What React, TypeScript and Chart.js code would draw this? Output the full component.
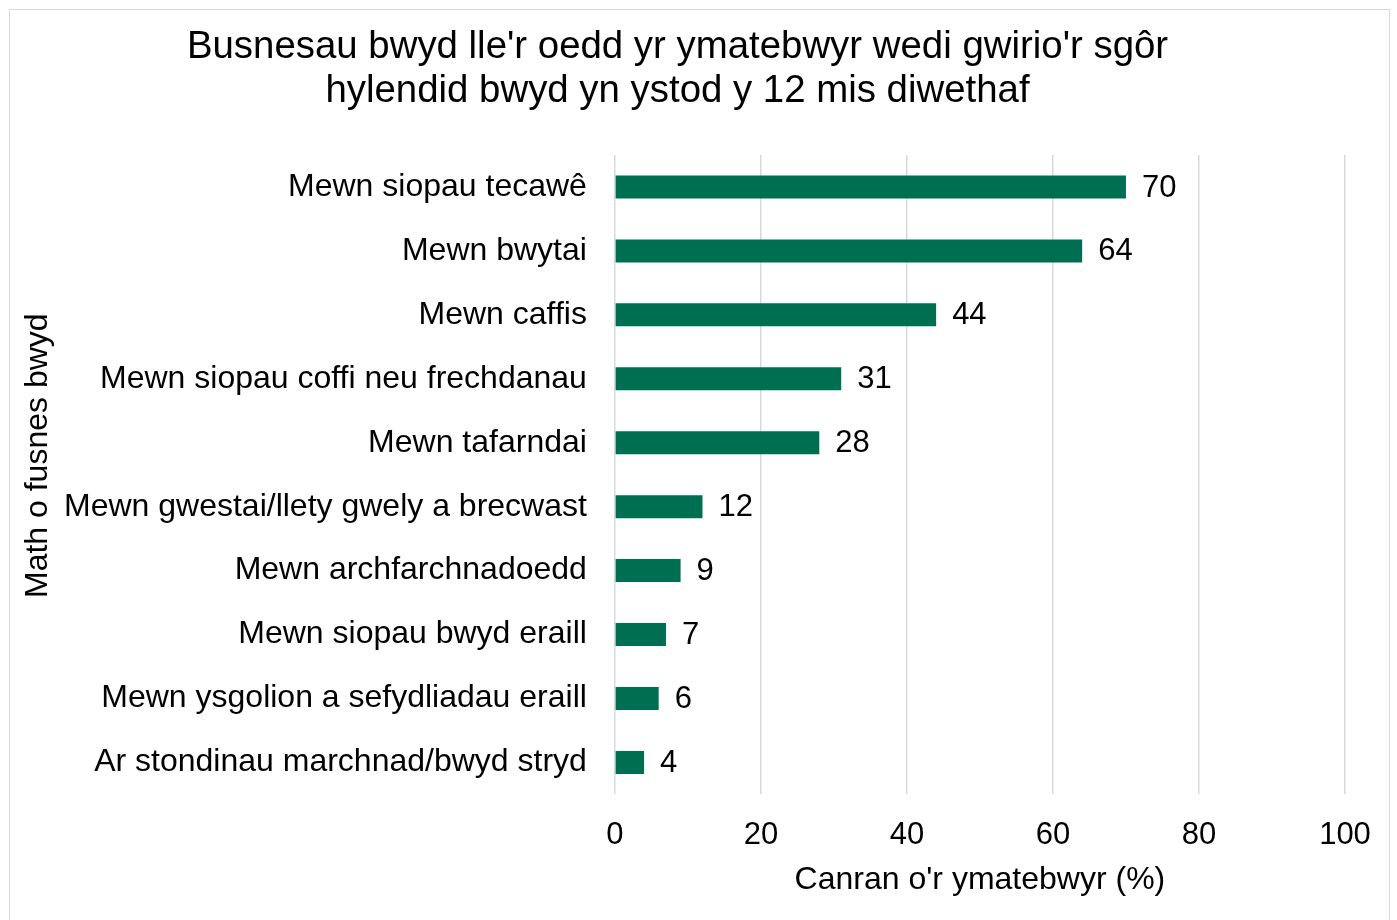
import React, { useEffect, useRef } from "react";
import { Chart, registerables } from "chart.js";

Chart.register(...registerables);

const titleLines = [
  "Busnesau bwyd lle'r oedd yr ymatebwyr wedi gwirio'r sgôr",
  "hylendid bwyd yn ystod y 12 mis diwethaf",
];
const categories = [
  "Mewn siopau tecawê",
  "Mewn bwytai",
  "Mewn caffis",
  "Mewn siopau coffi neu frechdanau",
  "Mewn tafarndai",
  "Mewn gwestai/llety gwely a brecwast",
  "Mewn archfarchnadoedd",
  "Mewn siopau bwyd eraill",
  "Mewn ysgolion a sefydliadau eraill",
  "Ar stondinau marchnad/bwyd stryd",
];
const values = [70, 64, 44, 31, 28, 12, 9, 7, 6, 4];
const xTitle = "Canran o'r ymatebwyr (%)";
const yTitle = "Math o fusnes bwyd";
const xMin = 0;
const xMax = 100;
const xStep = 20;

const FONT = "'Liberation Sans', Arial, sans-serif";
const BAR = "#006E51";

const dataLabelPlugin = {
  id: "dataLabels",
  afterDatasetsDraw(chart: any) {
    const ctx = chart.ctx;
    const meta = chart.getDatasetMeta(0);
    ctx.save();
    ctx.font = `31px ${FONT}`;
    ctx.fillStyle = "#000";
    ctx.textAlign = "left";
    ctx.textBaseline = "middle";
    meta.data.forEach((el: any, i: number) => {
      ctx.fillText(String(values[i]), el.x + 16, el.y + 1);
    });
    ctx.restore();
  },
};

const yTitlePlugin = {
  id: "yTitle",
  afterDraw(chart: any) {
    const ctx = chart.ctx;
    const area = chart.chartArea;
    ctx.save();
    ctx.font = `32px ${FONT}`;
    ctx.fillStyle = "#000";
    ctx.textAlign = "center";
    ctx.textBaseline = "middle";
    ctx.translate(28, (area.top + area.bottom) / 2 - 19);
    ctx.rotate(-Math.PI / 2);
    ctx.fillText(yTitle, 0, 0);
    ctx.restore();
  },
};

export default function App() {
  const ref = useRef<HTMLCanvasElement>(null);
  useEffect(() => {
    if (!ref.current) return;
    const chart = new Chart(ref.current, {
      type: "bar",
      data: {
        labels: categories,
        datasets: [
          {
            data: values,
            backgroundColor: BAR,
            borderWidth: 0,
            categoryPercentage: 1,
            barPercentage: 0.36,
          },
        ],
      },
      options: {
        indexAxis: "y",
        animation: false,
        responsive: false,
        layout: { padding: { left: 0, right: 44, top: 0, bottom: 17 } },
        plugins: {
          legend: { display: false },
          tooltip: { enabled: false },
          title: {
            display: true,
            text: titleLines,
            color: "#000",
            font: { family: FONT, size: 38.4, weight: "normal", lineHeight: 1.146 },
            padding: { top: 15, bottom: 42 },
          },
        },
        scales: {
          x: {
            min: xMin,
            max: xMax,
            afterFit(scale: any) {
              scale.height -= 24;
              scale.paddingRight = 20;
            },
            ticks: {
              stepSize: xStep,
              color: "#000",
              font: { family: FONT, size: 31 },
              padding: 22,
            },
            grid: { color: "#d9d9d9", lineWidth: 1.5, drawTicks: false },
            border: { display: false },
            title: {
              display: true,
              text: xTitle,
              color: "#000",
              font: { family: FONT, size: 32 },
              padding: { top: 9, bottom: 4 },
            },
          },
          y: {
            afterFit(scale: any) {
              scale.width += 54 - 28;
            },
            ticks: {
              color: "#000",
              font: { family: FONT, size: 32 },
              padding: 28,
              autoSkip: false,
            },
            grid: { display: false, drawTicks: false },
            border: { display: false },
          },
        },
      },
      plugins: [dataLabelPlugin, yTitlePlugin],
    });
    return () => chart.destroy();
  }, []);

  return (
    <div
      style={{
        position: "absolute",
        left: 9,
        top: 9,
        width: 1381,
        height: 911,
        boxSizing: "border-box",
        borderTop: "1px solid #d9d9d9",
        borderLeft: "1px solid #d9d9d9",
        borderRight: "1px solid #d9d9d9",
        background: "#fff",
      }}
    >
      <canvas ref={ref} width={1379} height={910} style={{ display: "block" }} />
    </div>
  );
}
